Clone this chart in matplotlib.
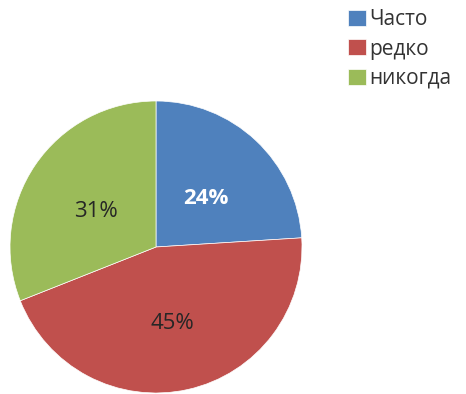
import matplotlib.pyplot as plt

# answers and shares (percent)
labels = ['Часто', 'редко', 'никогда']
values = [24, 45, 31]
colors = ['#4F81BD', '#C0504D', '#9BBB59']
text_colors = ['white', '#262626', '#262626']

plt.rcParams['font.family'] = ['Open Sans', 'DejaVu Sans']

fig = plt.figure(figsize=(4.66, 3.94), dpi=100)
ax = fig.add_axes([10/466, 1/394, 292/466, 292/394])

wedges, texts, autotexts = ax.pie(values, colors=colors, startangle=90, counterclock=False,
                                  autopct='%d%%', pctdistance=0.5, radius=1,
                                  wedgeprops=dict(linewidth=0.5, edgecolor='white'))
for t, c in zip(autotexts, text_colors):
    t.set_color(c)
    t.set_fontsize(16)
    x, y = t.get_position()
    t.set_position((x, y - 0.035))
autotexts[0].set_fontweight('bold')
ax.set_xlim(-1, 1)
ax.set_ylim(-1, 1)
ax.set_aspect('equal')

fig.legend(wedges, labels, loc='upper left', bbox_to_anchor=(340/466, 1 - 1/394),
           frameon=False, fontsize=15, handlelength=0.85, handleheight=0.8,
           handletextpad=0.15, labelspacing=0.4, borderaxespad=0, labelcolor='#333333')

fig.savefig('out.png', dpi=100)
